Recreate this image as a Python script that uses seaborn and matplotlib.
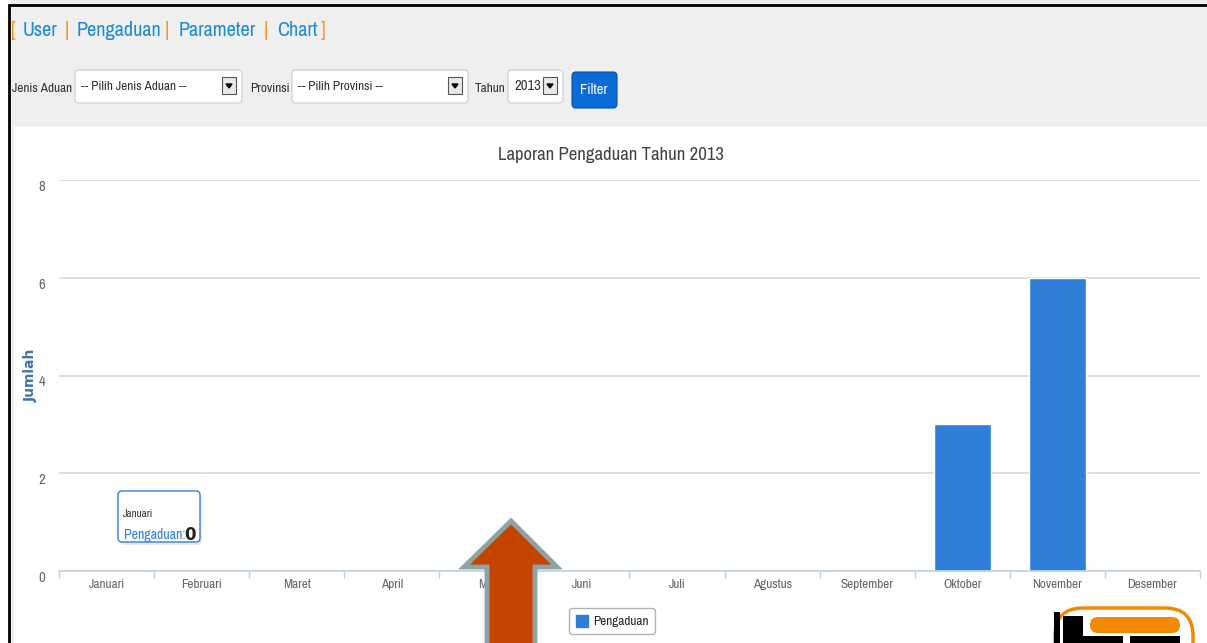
import matplotlib
matplotlib.use("Agg")
import matplotlib.pyplot as plt
from matplotlib import font_manager as fm
from matplotlib.patches import FancyBboxPatch, Rectangle, Polygon, Patch
import seaborn as sns
import pandas as pd

# data
months = ["Januari", "Februari", "Maret", "April", "Mei", "Juni", "Juli",
          "Agustus", "September", "Oktober", "November", "Desember"]
pengaduan = [0, 0, 0, 0, 0, 0, 0, 0, 0, 3, 6, 0]
y_ticks = [0, 2, 4, 6, 8]
title = "Laporan Pengaduan Tahun 2013"

BAR_BLUE = "#2f7ed8"
W, H = 1207, 643

# the page uses a condensed web font; take a narrow one if there is one
installed = fm.fontManager.ttflist
narrow = [f for f in installed if "Narrow" in f.name or "Condensed" in f.name]
cond_stretch = [f for f in installed if str(f.stretch) in ("condensed", "semi-condensed")]
if narrow:
    FAM, STRETCH, SCALE = [narrow[0].name, "DejaVu Sans"], "normal", 1.0
elif cond_stretch:
    FAM, STRETCH, SCALE = [cond_stretch[0].name, "DejaVu Sans"], str(cond_stretch[0].stretch), 0.95
else:
    FAM, STRETCH, SCALE = ["DejaVu Sans"], "normal", 0.8

sns.set_theme(style="white")
plt.rcParams["font.family"] = FAM
plt.rcParams["font.stretch"] = STRETCH


def fs(size):
    return size * SCALE


fig = plt.figure(figsize=(W / 100, H / 100), dpi=100)
fig.patch.set_facecolor("#efefef")

# page chrome drawn in pixel coords
bg = fig.add_axes([0, 0, 1, 1], zorder=0)
bg.set_xlim(0, W)
bg.set_ylim(H, 0)
bg.axis("off")
bg.add_patch(Rectangle((0, 0), 9, H, color="white"))
bg.add_patch(Rectangle((14, 127), W - 14, H - 127, color="white"))
bg.plot([9, 9], [5, H], color="black", lw=2)
bg.plot([9, W], [5, 5], color="black", lw=2)

# header menu
orange, link = "#f7941d", "#1a8ad4"
pieces = [("[", 11, orange), ("User", 23, link), ("|", 65, orange),
          ("Pengaduan", 77, link), ("|", 165, orange), ("Parameter", 179, link),
          ("|", 264, orange), ("Chart", 277, link), ("]", 321, orange)]
for txt, x, c in pieces:
    bg.text(x, 31, txt, color=c, fontsize=fs(14.5), va="center", ha="left")

# filter row
def select_box(x0, x1, label, size=9.5):
    bg.add_patch(FancyBboxPatch((x0, 70), x1 - x0, 33, boxstyle="round,pad=0,rounding_size=4",
                                fc="white", ec="#cccccc", lw=0.8))
    bg.text(x0 + 6, 86, label, fontsize=fs(size), color="#333333", va="center")
    bg.add_patch(Rectangle((x1 - 20, 77), 14, 17, fc="#e8e8e8", ec="#555555", lw=0.8))
    bg.add_patch(Polygon([(x1 - 16, 84), (x1 - 10, 84), (x1 - 13, 88)], color="black"))

bg.text(42, 89, "Jenis Aduan", fontsize=fs(9.5), color="#333333", va="center", ha="center")
select_box(75, 242, "-- Pilih Jenis Aduan --")
bg.text(270, 89, "Provinsi", fontsize=fs(9.5), color="#333333", va="center", ha="center")
select_box(292, 468, "-- Pilih Provinsi --")
bg.text(490, 89, "Tahun", fontsize=fs(9.5), color="#333333", va="center", ha="center")
select_box(508, 563, "2013", size=10.5)
bg.add_patch(FancyBboxPatch((572, 72), 45, 36, boxstyle="round,pad=0,rounding_size=4",
                            fc="#0a6ad6", ec="#0652a8", lw=0.8))
bg.text(594, 90, "Filter", fontsize=fs(10.5), color="white", ha="center", va="center")

# chart
ax = fig.add_axes([59 / W, 1 - 571 / H, (1200 - 59) / W, (571 - 180) / H], zorder=1)
ax.patch.set_alpha(0)
df = pd.DataFrame({"Bulan": months, "Jumlah": pengaduan})
sns.barplot(data=df, x="Bulan", y="Jumlah", color=BAR_BLUE, saturation=1,
            width=0.6, ax=ax, zorder=2)
ax.set_xlim(-0.5, len(months) - 0.5)
ax.set_ylim(0, 8)
ax.set_yticks(y_ticks)
for t in y_ticks[1:]:
    ax.axhline(t, color="#d8d8d8", lw=1.2, zorder=1)
for s in ["top", "right", "left"]:
    ax.spines[s].set_visible(False)
ax.spines["bottom"].set_color("#c0d0e0")
ax.spines["bottom"].set_linewidth(1.2)
ax.set_xticks([i - 0.5 for i in range(len(months) + 1)], minor=True)
ax.tick_params(axis="x", which="minor", bottom=True, length=5, color="#c0d0e0", width=1)
ax.tick_params(axis="x", which="major", length=0, pad=6, labelsize=fs(9.5), labelcolor="#666666")
ax.tick_params(axis="y", length=0, pad=10, labelsize=fs(10.5), labelcolor="#666666")
for lbl in ax.get_yticklabels():
    lbl.set_verticalalignment("top")
ax.set_xlabel("")
ax.set_ylabel("Jumlah", color="#4572a7", fontsize=10, fontweight="bold",
              family=["DejaVu Sans"], fontstretch="normal")
ax.yaxis.set_label_coords(-21 / (1200 - 59), 0.5)
fig.text(611 / W, 1 - 155 / H, title, ha="center", va="center", fontsize=fs(13.5),
         color="#444444")

# legend
fig.legend(handles=[Patch(facecolor=BAR_BLUE, edgecolor=BAR_BLUE, label="Pengaduan")],
           loc="center", bbox_to_anchor=(612 / W, 1 - 621 / H), fontsize=fs(9.5),
           frameon=True, fancybox=True, edgecolor="#a0a0a0", handlelength=0.9,
           handleheight=1.1, handletextpad=0.4, borderpad=0.5)

# overlay: tooltip, arrow, logo
fg = fig.add_axes([0, 0, 1, 1], zorder=3)
fg.set_xlim(0, W)
fg.set_ylim(H, 0)
fg.axis("off")
fg.patch.set_alpha(0)
fg.add_patch(FancyBboxPatch((120, 494), 82, 51, boxstyle="round,pad=0,rounding_size=4",
                            fc="#dddddd", ec="none", alpha=0.6))
fg.add_patch(FancyBboxPatch((118, 491), 82, 51, boxstyle="round,pad=0,rounding_size=4",
                            fc="white", ec=BAR_BLUE, lw=1))
fg.text(123, 514, "Januari", fontsize=fs(8), color="#333333", va="center")
fg.text(124, 535, "Pengaduan:", fontsize=fs(10), color=BAR_BLUE, va="center", ha="left")
fg.text(184, 535, "0", fontsize=fs(12), color="#222222", va="center", fontweight="bold",
        family=["DejaVu Sans"], fontstretch="normal")

fg.add_patch(Polygon([(511, 521), (464, 567), (487, 567), (487, 660), (535, 660),
                      (535, 567), (557, 567)], closed=True, fc="#c44400",
                     ec="#8ea3a3", lw=3.5, joinstyle="miter"))

# logo corner
fg.add_patch(FancyBboxPatch((1055, 608), 138, 80, boxstyle="round,pad=0,rounding_size=28",
                            fc="white", ec="#f18a00", lw=2.5))
fg.add_patch(Rectangle((1054, 612), 6, 35, fc="black", ec="none"))
fg.add_patch(Rectangle((1063, 616), 20, 35, fc="black", ec="none"))
fg.add_patch(FancyBboxPatch((1090, 617), 90, 16, boxstyle="round,pad=0,rounding_size=8",
                            fc="#f18a00", ec="none"))
fg.add_patch(Rectangle((1083, 636), 40, 10, fc="black", ec="none"))
fg.add_patch(Rectangle((1130, 636), 50, 10, fc="black", ec="none"))

fig.savefig("out.png", dpi=100, facecolor=fig.get_facecolor())
